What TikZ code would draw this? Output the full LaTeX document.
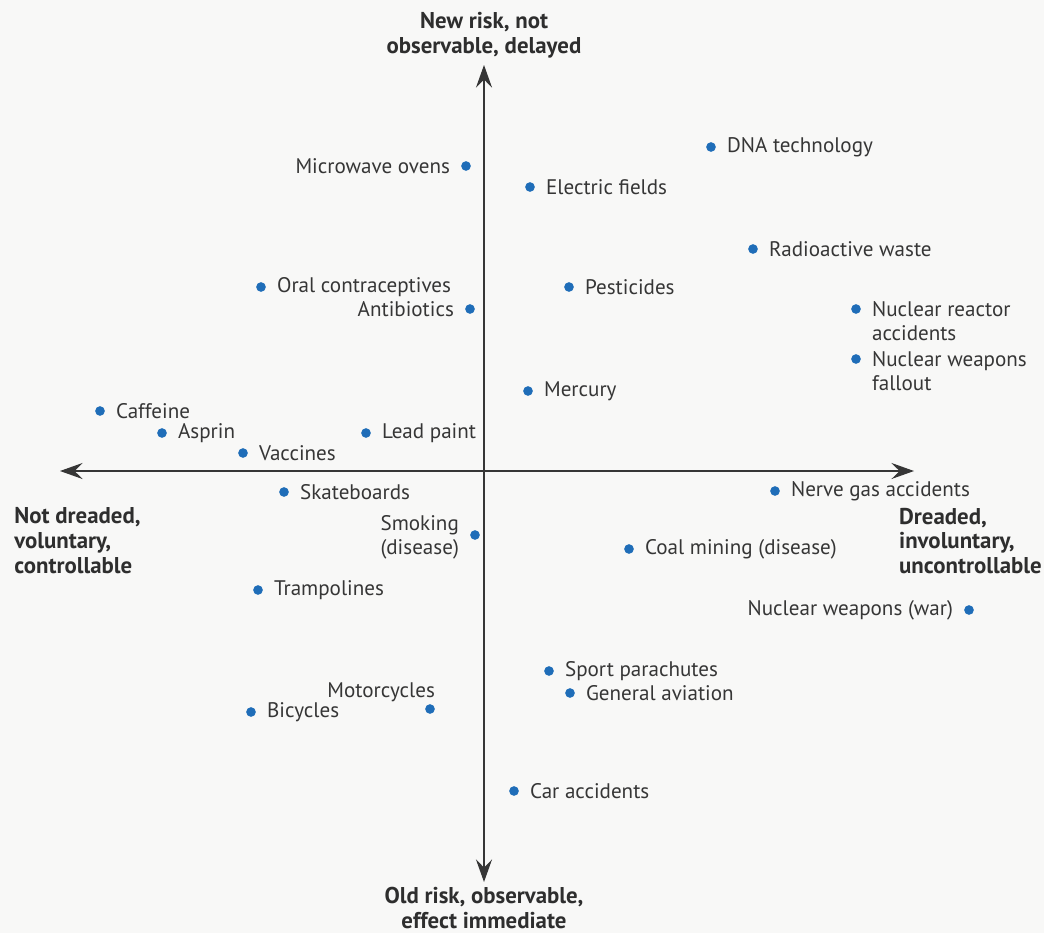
\documentclass[tikz,border=0pt]{standalone}
\usepackage{fontspec}
\setmainfont{PT Sans}
\usetikzlibrary{arrows.meta,positioning}
\definecolor{Paper}{HTML}{F8F8F7}
\definecolor{Ink}{HTML}{363636}
\definecolor{Pole}{HTML}{2E2E2E}
\definecolor{Dot}{HTML}{1F6DB8}
\begin{document}
\begin{tikzpicture}[x=0.02cm,y=-0.02cm, font=\fontsize{12}{13.6}\selectfont, dot/.style={circle,fill=Dot,inner sep=0pt,minimum size=5.5pt}, lbl/.style={text=Ink,inner sep=1pt,align=left}, lblL/.style={text=Ink,inner sep=1pt,align=right}, pole/.style={text=Pole,font=\fontsize{13}{14.2}\selectfont\bfseries,inner sep=0pt}, axis/.style={-{Stealth[length=4.5mm,width=3.2mm,inset=1.6mm]},line width=0.7pt,draw=Ink}]
\useasboundingbox (0,0) rectangle (1044,933);
\fill[Paper] (0,0) rectangle (1044,933);
% axes
\coordinate (c) at (484,471);
\coordinate (n) at (484,65);\coordinate (s) at (484,882);\coordinate (w) at (60,471);\coordinate (e) at (914,471);
\draw[axis] (c)--(n);\draw[axis] (c)--(s);\draw[axis] (c)--(w);\draw[axis] (c)--(e);
\node[pole,align=center] (top) at (484,35) {New risk, not\\observable, delayed};
\node[pole,align=center] (bot) at (484,908) {Old risk, observable,\\effect immediate};
\node[pole,align=left,anchor=west] (left) at (14,541) {Not dreaded,\\voluntary,\\controllable};
\node[pole,align=left,anchor=east] (right) at (1042,541) {Dreaded,\\involuntary,\\uncontrollable};
% upper half
\node[dot] (mic) at (466,166) {};\node[lblL,left=5pt of mic] {Microwave ovens};
\node[dot] (dna) at (711,147) {};\node[lbl,right=5pt of dna] {DNA technology};
\node[dot] (ele) at (530,187) {};\node[lbl,right=5pt of ele] {Electric fields};
\node[dot] (rad) at (753,249) {};\node[lbl,right=5pt of rad] {Radioactive waste};
\node[dot] (ora) at (261,287) {};\node[lbl,right=5pt of ora] {Oral contraceptives};
\node[dot] (pes) at (569,287) {};\node[lbl,right=5pt of pes] {Pesticides};
\node[dot] (ant) at (470,309) {};\node[lblL,left=5pt of ant] {Antibiotics};
\node[dot] (nra) at (856,309) {};\node[lbl,anchor=north west] at ([xshift=5pt,yshift=5.2pt]nra.east) {Nuclear reactor\\accidents};
\node[dot] (nwf) at (856,359) {};\node[lbl,anchor=north west] at ([xshift=5pt,yshift=5.2pt]nwf.east) {Nuclear weapons\\fallout};
\node[dot] (mer) at (528,391) {};\node[lbl,right=5pt of mer] {Mercury};
\node[dot] (caf) at (100,411) {};\node[lbl,right=5pt of caf] {Caffeine};
\node[dot] (asp) at (162,433) {};\node[lbl,right=5pt of asp] {Asprin};
\node[dot] (lea) at (366,433) {};\node[lbl,right=5pt of lea] {Lead paint};
\node[dot] (vac) at (243,453) {};\node[lbl,right=5pt of vac] {Vaccines};
% lower half
\node[dot] (ska) at (284,492) {};\node[lbl,right=5pt of ska] {Skateboards};
\node[dot] (ner) at (775,491) {};\node[lbl,right=5pt of ner] {Nerve gas accidents};
\node[dot] (smo) at (475,535) {};\node[lblL,align=center,left=5pt of smo,yshift=-1.5pt] {Smoking\\(disease)};
\node[dot] (coa) at (629,549) {};\node[lbl,right=5pt of coa] {Coal mining (disease)};
\node[dot] (tra) at (258,590) {};\node[lbl,right=5pt of tra] {Trampolines};
\node[dot] (nww) at (969,610) {};\node[lblL,left=5pt of nww] {Nuclear weapons (war)};
\node[dot] (spo) at (549,671) {};\node[lbl,right=5pt of spo] {Sport parachutes};
\node[dot] (gen) at (570,693) {};\node[lbl,right=5pt of gen] {General aviation};
\node[dot] (mot) at (430,709) {};\node[lblL,anchor=south east] at ([xshift=4pt,yshift=0pt]mot.north) {Motorcycles};
\node[dot] (bic) at (251,712) {};\node[lbl,right=5pt of bic] {Bicycles};
\node[dot] (car) at (514,791) {};\node[lbl,right=5pt of car] {Car accidents};
\end{tikzpicture}
\end{document}
